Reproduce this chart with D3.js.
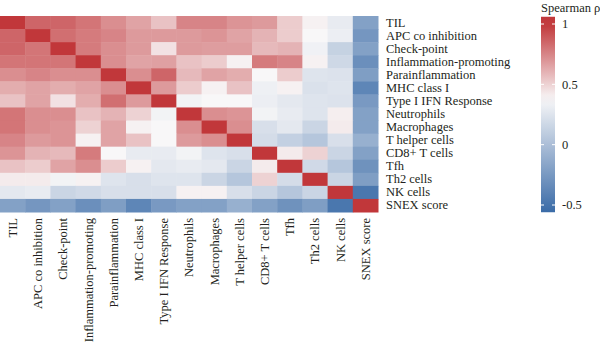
<!DOCTYPE html>
<html lang="en">
<head>
<meta charset="UTF-8">
<title>Spearman correlation heatmap</title>
<script src="https://cdn.jsdelivr.net/npm/d3@7"></script>
<style>
  body { margin: 0; background: #fff; }
  svg text { font-family: "Liberation Serif", "DejaVu Serif", serif; fill: #231f20; }
</style>
</head>
<body>
<script>
// signatures, same order on both axes
const labels = [
  "TIL", "APC co inhibition", "Check-point", "Inflammation-promoting",
  "Parainflammation", "MHC class I", "Type I IFN Response", "Neutrophils",
  "Macrophages", "T helper cells", "CD8+ T cells", "Tfh", "Th2 cells",
  "NK cells", "SNEX score"
];

// Spearman rho, row by row
const rho = [
  [1, .85, .85, .8, .72, .65, .55, .75, .75, .7, .68, .52, .4, .3, -.2],
  [.85, 1, .82, .78, .75, .68, .68, .68, .7, .65, .6, .52, .38, .32, -.27],
  [.85, .8, 1, .78, .72, .68, .45, .68, .67, .67, .58, .6, .34, .13, -.2],
  [.8, .8, .8, 1, .72, .65, .66, .55, .52, .4, .78, .75, .4, .17, -.32],
  [.72, .75, .72, .72, 1, .72, .85, .58, .65, .62, .38, .52, .25, .24, -.22],
  [.62, .65, .62, .65, .72, 1, .68, .52, .4, .55, .33, .4, .23, .25, -.38],
  [.55, .65, .45, .62, .82, .68, 1, .35, .38, .38, .32, .28, .25, .24, -.25],
  [.8, .72, .72, .55, .6, .5, .35, 1, .72, .7, .35, .3, .25, .41, -.2],
  [.8, .72, .7, .5, .65, .4, .38, .72, 1, .72, .22, .28, .15, .42, -.2],
  [.75, .68, .7, .4, .65, .55, .38, .68, .72, 1, .2, .12, .05, .22, -.1],
  [.7, .6, .58, .78, .38, .3, .3, .35, .25, .22, 1, .42, .5, .15, -.2],
  [.55, .52, .65, .72, .52, .4, .28, .3, .28, .15, .42, 1, .18, .05, -.3],
  [.42, .42, .35, .4, .25, .22, .25, .25, .15, .05, .5, .2, 1, .15, -.22],
  [.28, .3, .15, .18, .22, .22, .22, .4, .4, .22, .15, .05, .15, 1, -.48],
  [-.2, -.27, -.2, -.32, -.22, -.38, -.25, -.2, -.2, -.1, -.2, -.3, -.22, -.48, 1]
];

const legendTicks = [-0.5, 0, 0.5, 1];
const legendRange = [-0.56, 1.06];

const width = 600, height = 344;
const grid = { left: 0, top: 16, width: 378, height: 196 };

const svg = d3.select("body").append("svg")
    .attr("width", width)
    .attr("height", height);

const color = d3.scaleLinear()
    .domain([-0.56, 0.38, 1])
    .range(["#3a6ba7", "#f8f7f8", "#c1373a"])
    .clamp(true);

const x = d3.scaleBand().domain(labels).range([0, grid.width]);
const y = d3.scaleBand().domain(labels).range([0, grid.height]);

const g = svg.append("g")
    .attr("transform", `translate(${grid.left},${grid.top})`);

// cells
const cells = rho.flatMap((row, i) => row.map((v, j) => ({ r: labels[i], c: labels[j], v })));
g.selectAll("rect.cell")
    .data(cells)
    .enter()
    .append("rect")
    .attr("class", "cell")
    .attr("x", d => x(d.c))
    .attr("y", d => y(d.r))
    .attr("width", x.bandwidth() + 0.5)
    .attr("height", y.bandwidth() + 0.5)
    .attr("fill", d => color(d.v));

// row labels on the right
const yAxis = g.append("g")
    .attr("transform", `translate(${grid.width},0)`)
    .call(d3.axisRight(y).tickSize(0).tickPadding(8));
yAxis.select(".domain").remove();
yAxis.selectAll("text").style("font-size", "12.5px");

// column labels at the bottom, rotated
const xAxis = g.append("g")
    .attr("transform", `translate(0,${grid.height})`)
    .call(d3.axisBottom(x).tickSize(0).tickPadding(6));
xAxis.select(".domain").remove();
xAxis.selectAll("text")
    .style("font-size", "12.5px")
    .attr("transform", "rotate(-90)")
    .attr("x", -6)
    .attr("y", 0)
    .attr("dy", "0.35em")
    .style("text-anchor", "end");

// colour bar
const bar = { x: 541, w: 14 };
const ly = d3.scaleLinear().domain([-0.5, 1]).range([205, 24]);

const grad = svg.append("defs").append("linearGradient")
    .attr("id", "rhoGrad")
    .attr("x1", 0).attr("y1", 1).attr("x2", 0).attr("y2", 0);
grad.selectAll("stop")
    .data(d3.range(0, 1.0001, 0.05))
    .enter()
    .append("stop")
    .attr("offset", t => t)
    .attr("stop-color", t => color(legendRange[0] + t * (legendRange[1] - legendRange[0])));

svg.append("rect")
    .attr("x", bar.x)
    .attr("y", ly(legendRange[1]))
    .attr("width", bar.w)
    .attr("height", ly(legendRange[0]) - ly(legendRange[1]))
    .attr("fill", "url(#rhoGrad)");

const lt = svg.append("g").selectAll("g")
    .data(legendTicks)
    .enter()
    .append("g")
    .attr("transform", d => `translate(0,${ly(d)})`);
lt.append("line")
    .attr("x1", bar.x).attr("x2", bar.x + 3)
    .attr("stroke", "#fff").attr("stroke-width", 1);
lt.append("line")
    .attr("x1", bar.x + bar.w - 3).attr("x2", bar.x + bar.w)
    .attr("stroke", "#fff").attr("stroke-width", 1);
lt.append("text")
    .attr("x", 562)
    .attr("dy", "0.35em")
    .style("font-size", "12.5px")
    .text(d => d);

svg.append("text")
    .attr("x", 541)
    .attr("y", 12)
    .style("font-size", "12.5px")
    .text("Spearman \u03c1");
</script>
</body>
</html>
